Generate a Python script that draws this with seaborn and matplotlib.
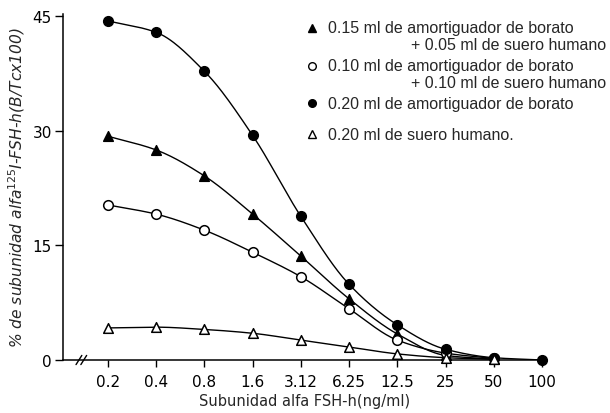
import numpy as np
import pandas as pd
import matplotlib
matplotlib.use("Agg")
import matplotlib.pyplot as plt
import seaborn as sns

# Concentrations of alpha subunit (ng/ml) shown on the x axis
dose_labels = ["0.2", "0.4", "0.8", "1.6", "3.12", "6.25", "12.5", "25", "50", "100"]

# % binding (B/Tc x100) for each incubation condition
borato_015_suero_005 = [29.3, 27.5, 24.1, 19.1, 13.6, 8.0, 3.4, 0.6, 0.1]
borato_010_suero_010 = [20.3, 19.1, 17.0, 14.1, 10.9, 6.7, 2.6, 0.9, 0.2]
borato_020 = [44.4, 42.9, 37.8, 29.4, 18.8, 9.9, 4.6, 1.4, 0.3, 0.0]
suero_020 = [4.2, 4.3, 4.0, 3.5, 2.6, 1.7, 0.8, 0.3, 0.1]

y_ticks = [0, 15, 30, 45]

legend_lines = [
    ("0.15 ml de amortiguador de borato", "+ 0.05 ml de suero humano"),
    ("0.10 ml de amortiguador de borato", "+ 0.10 ml de suero humano"),
    ("0.20 ml de amortiguador de borato", None),
    ("0.20 ml de suero humano.", None),
]

series = [
    ("a", borato_015_suero_005, "^", "black"),
    ("b", borato_010_suero_010, "o", "white"),
    ("c", borato_020, "o", "black"),
    ("d", suero_020, "^", "white"),
]


def smooth_curve(x, y, n=30):
    """Monotone cubic (Fritsch-Carlson) curve through the points."""
    x = np.asarray(x, float)
    y = np.asarray(y, float)
    h = np.diff(x)
    d = np.diff(y) / h
    m = np.zeros_like(y)
    m[0], m[-1] = d[0], d[-1]
    for i in range(1, len(y) - 1):
        if d[i - 1] * d[i] <= 0:
            m[i] = 0.0
        else:
            w1 = 2 * h[i] + h[i - 1]
            w2 = h[i] + 2 * h[i - 1]
            m[i] = (w1 + w2) / (w1 / d[i - 1] + w2 / d[i])
    xs, ys = [], []
    for i in range(len(x) - 1):
        t = np.linspace(0, 1, n, endpoint=False)
        h00 = 2 * t**3 - 3 * t**2 + 1
        h10 = t**3 - 2 * t**2 + t
        h01 = -2 * t**3 + 3 * t**2
        h11 = t**3 - t**2
        xs.append(x[i] + t * h[i])
        ys.append(h00 * y[i] + h10 * h[i] * m[i] + h01 * y[i + 1] + h11 * h[i] * m[i + 1])
    xs.append([x[-1]])
    ys.append([y[-1]])
    return np.concatenate(xs), np.concatenate(ys)


sns.set_style("ticks")
plt.rcParams["font.family"] = ["DejaVu Sans"]

fig = plt.figure(figsize=(6.10, 4.14), dpi=100)
ax = fig.add_axes([63 / 610, 1 - 361 / 414, (546 - 63) / 610, (361 - 15) / 414])

for key, vals, marker, face in series:
    pos = np.arange(len(vals))
    sx, sy = smooth_curve(pos, vals)
    curve = pd.DataFrame({"x": sx, "y": sy})
    sns.lineplot(data=curve, x="x", y="y", ax=ax, color="black", lw=1.0,
                 sort=False, estimator=None, zorder=2)
    pts = pd.DataFrame({"x": pos, "y": vals})
    sns.scatterplot(data=pts, x="x", y="y", ax=ax, marker=marker, s=48,
                    facecolor=face, edgecolor="black", linewidth=1.1,
                    zorder=3, clip_on=False)

ax.set_xlim(-0.93, 9.08)
ax.set_ylim(0, 45.3)
ax.set_xticks(range(len(dose_labels)))
ax.set_xticklabels(dose_labels)
ax.set_yticks(y_ticks)
ax.set_yticklabels([str(v) for v in y_ticks])
ax.tick_params(axis="both", colors="black", labelsize=11, width=1.0)
ax.tick_params(axis="y", length=6, pad=2)
ax.tick_params(axis="x", length=5, pad=5)
for side in ("top", "right"):
    ax.spines[side].set_visible(False)
for side in ("left", "bottom"):
    ax.spines[side].set_color("black")
    ax.spines[side].set_linewidth(1.1)

# axis break on the x axis
for xb in (-0.60, -0.50):
    ax.plot([xb - 0.06, xb + 0.06], [-0.6, 0.6], color="black", lw=1.0,
            clip_on=False, zorder=5)

ax.set_xlabel("Subunidad alfa FSH-h(ng/ml)", fontsize=10.5, labelpad=3)
ax.set_ylabel(r"% de subunidad alfa$^{125}$I-FSH-h(B/Tcx100)", fontsize=11.2,
              style="italic", labelpad=4)

# legend drawn as text with marker glyphs
marker_specs = [("^", "black"), ("o", "white"), ("o", "black"), ("^", "white")]
rows_y = [29, 67, 104, 135]
for (first, second), (mk, fc), ry in zip(legend_lines, marker_specs, rows_y):
    fy = 1 - ry / 414
    fig.lines.append(plt.Line2D([312 / 610], [fy], marker=mk, markersize=5.5,
                                markerfacecolor=fc, markeredgecolor="black",
                                markeredgewidth=1.0, linestyle="none",
                                transform=fig.transFigure))
    fig.text(328 / 610, fy, first, fontsize=11.5, va="center", ha="left",
             family="Liberation Sans")
    if second:
        fig.text(606 / 610, 1 - (ry + 17) / 414, second, fontsize=11.5,
                 va="center", ha="right", family="Liberation Sans")

fig.savefig("out.png", dpi=100, facecolor="white")
